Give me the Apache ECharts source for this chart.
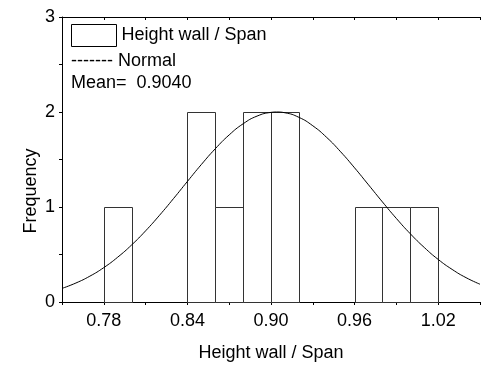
<!DOCTYPE html>
<html>
<head>
<meta charset="utf-8">
<script src="https://cdn.jsdelivr.net/npm/echarts@6/dist/echarts.min.js"></script>
<style>
  html, body { margin: 0; padding: 0; background: #fff; }
  #main { width: 483px; height: 367px; }
</style>
</head>
<body>
<div id="main"></div>
<script>
// histogram bins (left edge) and counts
const binStart = [0.78, 0.84, 0.86, 0.88, 0.90, 0.96, 0.98, 1.00];
const binCount = [1, 2, 1, 2, 2, 1, 1, 1];
const binWidth = 0.02;

// normal curve
const curveX = [0.75, 0.76, 0.77, 0.78, 0.79, 0.80, 0.81, 0.82, 0.83, 0.84, 0.85, 0.86, 0.87, 0.88, 0.89, 0.90, 0.904,
  0.91, 0.92, 0.93, 0.94, 0.95, 0.96, 0.97, 0.98, 0.99, 1.00, 1.01, 1.02, 1.03, 1.04, 1.05];
const curveY = [0.143, 0.200, 0.272, 0.362, 0.472, 0.601, 0.749, 0.913, 1.088, 1.269, 1.447, 1.613, 1.759, 1.876, 1.957, 1.996, 2.0,
  1.992, 1.944, 1.855, 1.732, 1.581, 1.412, 1.233, 1.053, 0.879, 0.718, 0.574, 0.448, 0.343, 0.256, 0.187];

const meanText = 'Mean=  0.9040';
const fontFamily = '"Liberation Sans", Arial, sans-serif';
const fs = 18;

const chart = echarts.init(document.getElementById('main'), null, { renderer: 'canvas' });

const bins = binStart.map((s, i) => [s, s + binWidth, binCount[i]]);
const curve = curveX.map((x, i) => [x, curveY[i]]);

const option = {
  animation: false,
  backgroundColor: '#fff',
  textStyle: { fontFamily: fontFamily },
  grid: { left: 62, top: 17, width: 425, height: 289 },
  legend: {
    left: 71,
    top: 24,
    padding: 0,
    itemWidth: 45,
    itemHeight: 22,
    icon: 'rect',
    itemStyle: { color: '#fff', borderColor: '#000', borderWidth: 1 },
    data: ['Height wall / Span'],
    textStyle: { fontSize: fs, color: '#000', fontFamily: fontFamily }
  },
  graphic: [
    { type: 'text', x: 71, y: 61, style: { text: '------- Normal', fontSize: fs, fill: '#000', fontFamily: fontFamily, verticalAlign: 'middle' } },
    { type: 'text', x: 71, y: 83, style: { text: meanText, fontSize: fs, fill: '#000', fontFamily: fontFamily, verticalAlign: 'middle' } },
    { type: 'text', x: 31, y: 191, rotation: Math.PI / 2, style: { text: 'Frequency', fontSize: fs, fill: '#000', fontFamily: fontFamily, align: 'center', verticalAlign: 'middle' } }
  ],
  xAxis: [{
    type: 'value',
    min: 0.75,
    max: 1.05,
    interval: 0.03,
    name: 'Height wall / Span',
    nameLocation: 'middle',
    nameGap: 42,
    nameTextStyle: { fontSize: fs, color: '#000' },
    axisLine: { lineStyle: { color: '#000', width: 1 } },
    axisTick: { length: 3, lineStyle: { color: '#000' } },
    axisLabel: {
      fontSize: fs,
      color: '#000',
      margin: 10,
      formatter: (v, i) => (i % 2 === 1 ? v.toFixed(2) : '')
    },
    splitLine: { show: false }
  }, {
    type: 'value',
    position: 'top',
    min: 0.75,
    max: 1.05,
    interval: 0.03,
    axisLine: { lineStyle: { color: '#000', width: 1 } },
    axisTick: { inside: true, length: 3, lineStyle: { color: '#000' } },
    axisLabel: { show: false },
    splitLine: { show: false }
  }],
  yAxis: {
    type: 'value',
    min: 0,
    max: 3,
    interval: 0.5,
    axisLine: { show: true, lineStyle: { color: '#000', width: 1 } },
    axisTick: { show: true, length: 3, lineStyle: { color: '#000' } },
    axisLabel: {
      fontSize: fs,
      color: '#000',
      margin: 7,
      formatter: v => (Number.isInteger(v) ? String(v) : '')
    },
    splitLine: { show: false }
  },
  series: [{
    name: 'Height wall / Span',
    type: 'custom',
    data: bins,
    itemStyle: { color: '#fff', borderColor: '#000', borderWidth: 1 },
    renderItem: (params, api) => {
      const p0 = api.coord([api.value(0), api.value(2)]);
      const p1 = api.coord([api.value(1), 0]);
      return {
        type: 'rect',
        shape: { x: Math.round(p0[0]) + 0.5, y: Math.round(p0[1]) + 0.5, width: Math.round(p1[0] - p0[0]), height: Math.round(p1[1] - p0[1]) },
        style: { fill: '#fff', stroke: '#333', lineWidth: 1 }
      };
    }
  }, {
    name: 'Normal',
    type: 'line',
    data: curve,
    smooth: true,
    showSymbol: false,
    lineStyle: { color: '#000', width: 1 },
    z: 5
  }]
};

chart.setOption(option);
</script>
</body>
</html>
